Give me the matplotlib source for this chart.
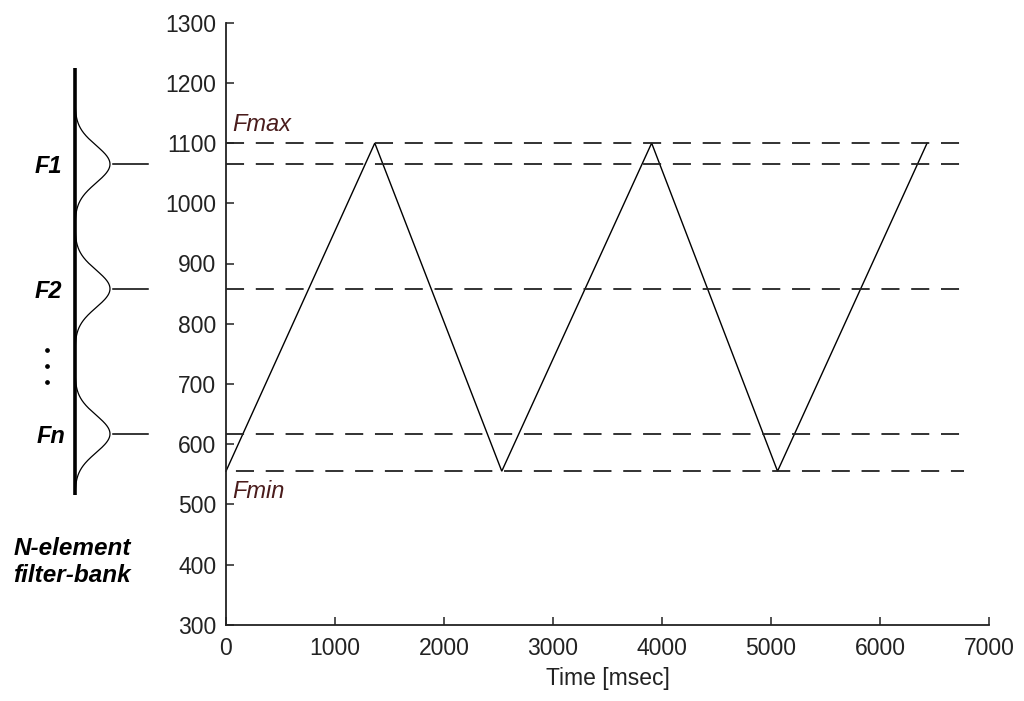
import numpy as np
import matplotlib
matplotlib.use("Agg")
import matplotlib.pyplot as plt

# ---- data ----
sweep_t = [0, 1365, 2530, 3905, 5060, 6432]          # msec
sweep_f = [555, 1100, 555, 1100, 555, 1100]          # frequency
f_max = 1100
f_min = 555
filter_centers = [1065, 858, 617]                    # F1, F2, Fn
filter_labels = ["F1", "F2", "Fn"]
line_end_t = 6770
x_ticks = [0, 1000, 2000, 3000, 4000, 5000, 6000, 7000]
y_ticks = [300, 400, 500, 600, 700, 800, 900, 1000, 1100, 1200, 1300]

plt.rcParams['font.family'] = ['Liberation Sans', 'DejaVu Sans']

W, H = 1024, 701
fig = plt.figure(figsize=(W / 100, H / 100), dpi=100)

ax_l, ax_r, ax_t, ax_b = 226, 989, 22.7, 624.7
ax = fig.add_axes([ax_l / W, (H - ax_b) / H, (ax_r - ax_l) / W, (ax_b - ax_t) / H])

ax.set_xlim(0, 7000)
ax.set_ylim(300, 1300)
ax.set_xticks(x_ticks)
ax.set_yticks(y_ticks)
for s in ['top', 'right']:
    ax.spines[s].set_visible(False)
for s in ['left', 'bottom']:
    ax.spines[s].set_linewidth(1.3)
    ax.spines[s].set_color('#222222')
ax.tick_params(direction='in', length=6, width=1.1, colors='#222222',
               labelsize=16.5, labelcolor='#222222')
ax.tick_params(axis='x', pad=9)
ax.tick_params(axis='y', pad=7)
ax.set_xlabel("Time [msec]", fontsize=16.5, color='#222222', labelpad=5)

# sweep
ax.plot(sweep_t, sweep_f, color='black', lw=1.0, solid_joinstyle='miter', clip_on=False)

# dashed reference lines
dash_levels = [f_max] + filter_centers + [f_min]
for lev in dash_levels:
    offset = 11 if lev == f_min else 0
    ax.plot([0, line_end_t], [lev, lev], color='#222222', lw=1.3,
            linestyle=(offset, (10, 6.5)), dash_capstyle='butt')

ax.text(60, f_max + 12, "Fmax", style='italic', fontsize=17, color='#4a1c1c',
        ha='left', va='bottom')
ax.text(60, f_min - 14, "Fmin", style='italic', fontsize=17, color='#4a1c1c',
        ha='left', va='top')

# ---- filter bank panel (shares frequency axis) ----
axf = fig.add_axes([0, (H - ax_b) / H, ax_l / W, (ax_b - ax_t) / H], sharey=ax)
axf.set_xlim(0, ax_l)
axf.axis('off')

bank_x = 75
bank_top, bank_bot = 1225, 516
axf.plot([bank_x, bank_x], [bank_bot, bank_top], color='black', lw=2.6,
         solid_capstyle='butt', clip_on=False)
sigma = 31
amp = 35
for fc, lab in zip(filter_centers, filter_labels):
    yy = np.linspace(fc - 100, fc + 100, 300)
    xx = bank_x + amp * np.exp(-0.5 * ((yy - fc) / sigma) ** 2)
    axf.plot(xx, yy, color='black', lw=0.9, clip_on=False)
    axf.plot([113, 148], [fc, fc], color='black', lw=1.1, clip_on=False)
    axf.text(48 if lab != "Fn" else 51, fc - 4, lab, fontsize=17, fontweight='bold',
             style='italic', ha='center', va='center', color='black')

for yd in [756, 730, 703]:
    axf.plot([47], [yd], marker='o', ms=2.4, color='black', clip_on=False)

axf.text(72, 404, "N-element\nfilter-bank", fontsize=17.5, fontweight='bold',
         style='italic', ha='center', va='center', color='black', linespacing=1.2)

fig.savefig("out.png", dpi=100)
